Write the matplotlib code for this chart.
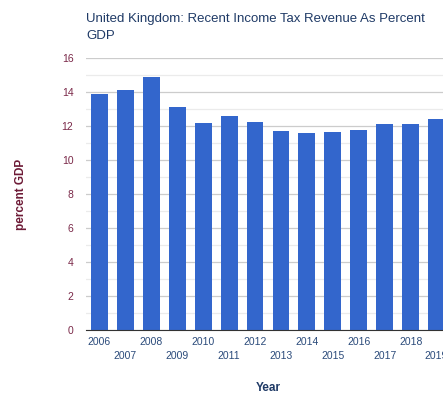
import numpy as np
import matplotlib.pyplot as plt
from matplotlib.ticker import MultipleLocator

plt.rcParams["font.family"] = ["Liberation Sans", "DejaVu Sans"]

# 英国近年所得税收入占GDP百分比
years = ["2006", "2007", "2008", "2009", "2010", "2011", "2012",
         "2013", "2014", "2015", "2016", "2017", "2018", "2019"]
values = [13.9, 14.15, 14.9, 13.15, 12.2, 12.6, 12.25,
          11.7, 11.6, 11.65, 11.8, 12.1, 12.1, 12.45]

fig = plt.figure(figsize=(4.43, 3.93), dpi=100)
ax = fig.add_axes([0.194, 0.160, 0.822, 0.692])

x = np.arange(len(years))
ax.bar(x, values, width=0.65, color="#3366cc", zorder=3)

ax.set_xlim(-0.52, len(years) - 0.48)
ax.set_ylim(0, 16)
ax.yaxis.set_major_locator(MultipleLocator(2))
ax.yaxis.set_minor_locator(MultipleLocator(1))
ax.grid(axis="y", which="major", color="#cccccc", linewidth=0.9, zorder=0)
ax.grid(axis="y", which="minor", color="#ebebeb", linewidth=0.9, zorder=0)

for s in ["top", "right", "left"]:
    ax.spines[s].set_visible(False)
ax.spines["bottom"].set_color("#333333")
ax.spines["bottom"].set_zorder(4)

# 横轴标签上下交错
labels = [y if i % 2 == 0 else "\n" + y for i, y in enumerate(years)]
ax.set_xticks(x)
ax.set_xticklabels(labels, fontsize=7.5, color="#2a4a7a", linespacing=1.55)
ax.tick_params(axis="x", length=0, pad=5)
ax.tick_params(axis="y", which="both", length=0, pad=9, labelsize=7.5,
               labelcolor="#7a2848")

ax.set_xlabel("Year", fontsize=8.5, fontweight="bold", color="#1f3a66", labelpad=15)
ax.set_ylabel("percent GDP", fontsize=8.5, fontweight="bold", color="#6d1a36", labelpad=25)

fig.text(0.194, 0.967, "United Kingdom: Recent Income Tax Revenue As Percent\nGDP",
         fontsize=9.5, color="#1f3a66", ha="left", va="top", linespacing=1.6)

fig.savefig("out.png", dpi=100)
